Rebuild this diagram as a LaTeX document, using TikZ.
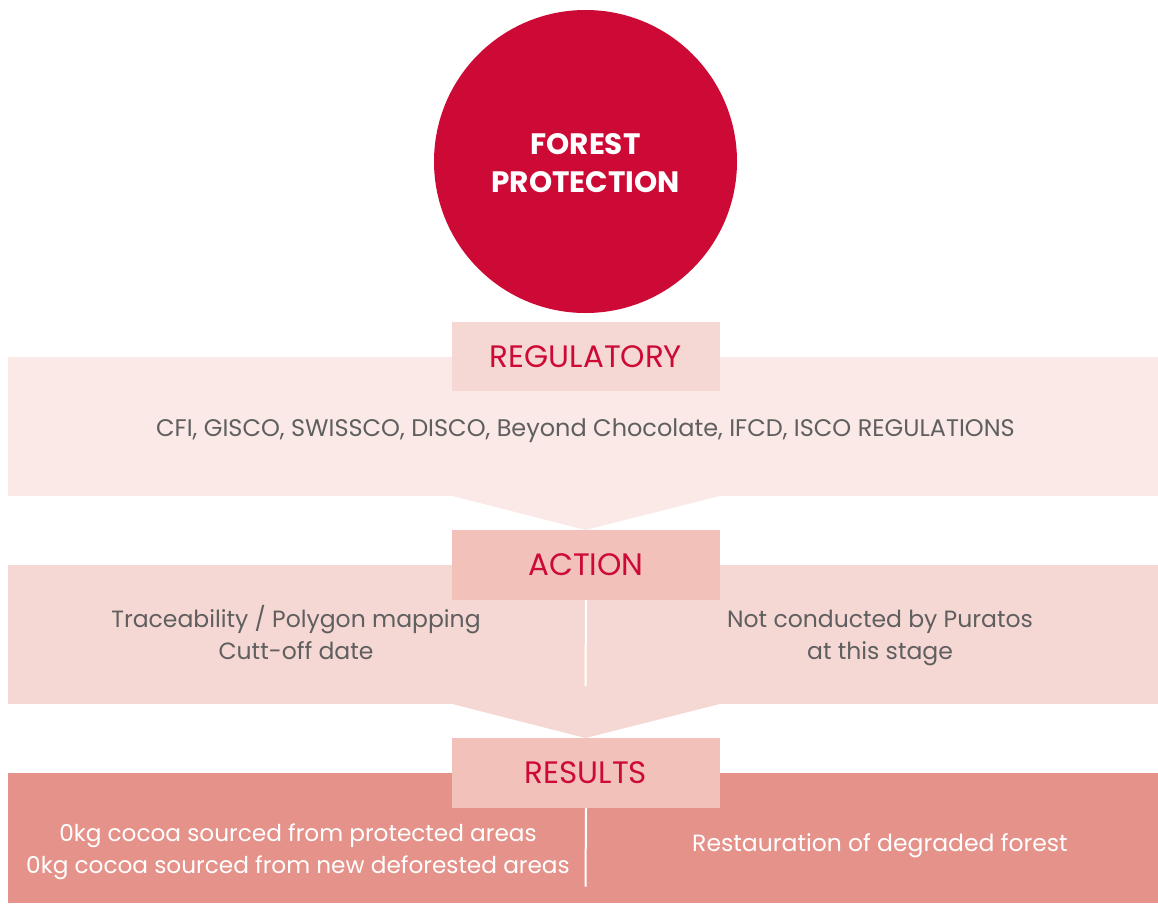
\documentclass[tikz,border=0pt]{standalone}
\usepackage{fontspec}
\setmainfont{Poppins}
\definecolor{crim}{HTML}{CC0A35}
\definecolor{bandA}{HTML}{FAE9E7}
\definecolor{bandB}{HTML}{F5D7D3}
\definecolor{bandC}{HTML}{E5928B}
\definecolor{lblB}{HTML}{F1C1BA}
\definecolor{txt}{HTML}{5F5F5F}
\tikzset{
  band/.style={rectangle, inner sep=0pt, anchor=north west, minimum width=1150pt, draw=none},
  lbl/.style={rectangle, inner sep=0pt, minimum width=268pt, minimum height=69.5pt, text=crim,
    font=\fontsize{31}{34}\selectfont, text height=21.7pt, text depth=0pt},
  body/.style={text=txt, align=center, inner sep=0pt, font=\fontsize{23.5}{32}\selectfont},
  wbody/.style={text=white, align=center, inner sep=0pt, font=\fontsize{23.5}{32}\selectfont},
  divider/.style={white, line width=2pt}
}
\begin{document}
\begin{tikzpicture}[x=1pt,y=-1pt]
\useasboundingbox (0,0) rectangle (1158,903);
% circle
\node[circle, fill=crim, minimum size=303pt, inner sep=0pt] (forest) at (585.5,161.5) {};
\node[text=white, align=center, inner sep=0pt, font=\bfseries\fontsize{29.5}{38}\selectfont]
  (ftext) at ([yshift=-2pt]forest.center) {FOREST\\PROTECTION};
% band 1
\node[band, fill=bandA, minimum height=138.5pt] (band1) at (8,357) {};
\fill[bandA] (band1.south -| 452,0) -- (585.5,530) -- (band1.south -| 720,0) -- cycle;
\node[lbl, fill=bandB] (reg) at (586,356.5) {REGULATORY};
\node[body, font=\fontsize{24}{32}\selectfont] (regtext) at (585.5,429.6) {CFI, GISCO, SWISSCO, DISCO, Beyond Chocolate, IFCD, ISCO REGULATIONS\strut};
% band 2
\node[band, fill=bandB, minimum height=138.5pt] (band2) at (8,565) {};
\fill[bandB] (band2.south -| 452,0) -- (585.5,738) -- (band2.south -| 720,0) -- cycle;
\node[lbl, fill=lblB] (act) at (586,565) {ACTION};
\coordinate (d2) at (585.5,686);
\draw[divider] (act.south) -- (d2);
\node[body] (acl) at (296,637) {Traceability / Polygon mapping\strut\\Cutt-off date\strut};
\node[body] (acr) at (880,637) {Not conducted by Puratos\strut\\at this stage\strut};
% band 3
\node[band, fill=bandC, minimum height=130.5pt] (band3) at (8,772.5) {};
\node[lbl, fill=lblB] (res) at (586,773) {RESULTS};
\coordinate (d3) at (585.5,886.5);
\draw[divider] (res.south) -- (d3);
\node[wbody, font=\fontsize{23.2}{32}\selectfont] (rsl) at (298,851) {0kg cocoa sourced from protected areas\strut\\0kg cocoa sourced from new deforested areas\strut};
\node[wbody] (rsr) at (880,845) {Restauration of degraded forest\strut};
\end{tikzpicture}
\end{document}
